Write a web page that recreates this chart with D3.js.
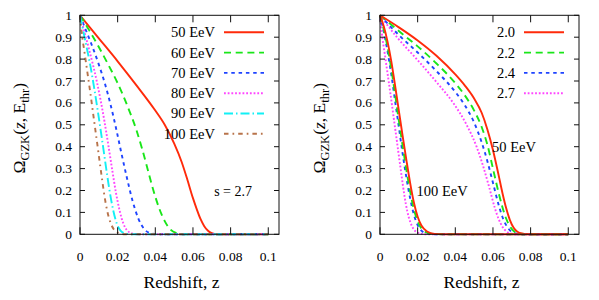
<!DOCTYPE html>
<html>
<head>
<meta charset="utf-8">
<script src="https://cdn.jsdelivr.net/npm/d3@7"></script>
<style>
  body { margin: 0; background: #fff; }
  svg text { font-family: "Liberation Serif", "Times New Roman", serif; fill: #000; }
</style>
</head>
<body>
<div class="chart"></div>
<script>
// axis ticks
const xTicks = [0, 0.02, 0.04, 0.06, 0.08, 0.1];
const xTickLabels = ["0", "0.02", "0.04", "0.06", "0.08", "0.1"];
const yTicks = [0, 0.1, 0.2, 0.3, 0.4, 0.5, 0.6, 0.7, 0.8, 0.9, 1];
const yTickLabels = ["0", "0.1", "0.2", "0.3", "0.4", "0.5", "0.6", "0.7", "0.8", "0.9", "1"];

// left panel: s = 2.7, different threshold energies  [z, Omega]
const leftLabels = ["50 EeV", "60 EeV", "70 EeV", "80 EeV", "90 EeV", "100 EeV"];
const e50 = [[0,1],[0.01,0.895],[0.02,0.79],[0.03,0.68],[0.04,0.565],[0.045,0.5],[0.05,0.415],[0.054,0.33],[0.057,0.25],[0.06,0.165],[0.062,0.115],[0.064,0.07],[0.066,0.037],[0.068,0.016],[0.07,0.005],[0.072,0.001],[0.075,0],[0.1,0]];
const e60 = [[0,1],[0.005,0.93],[0.01,0.855],[0.015,0.775],[0.02,0.69],[0.025,0.59],[0.03,0.475],[0.033,0.39],[0.036,0.295],[0.039,0.2],[0.042,0.12],[0.045,0.06],[0.048,0.022],[0.051,0.006],[0.055,0],[0.1,0]];
const e70 = [[0,1],[0.003,0.935],[0.006,0.87],[0.01,0.775],[0.013,0.695],[0.016,0.6],[0.019,0.49],[0.022,0.37],[0.025,0.255],[0.028,0.15],[0.031,0.072],[0.034,0.025],[0.037,0.006],[0.041,0],[0.1,0]];
const e80 = [[0,1],[0.002,0.935],[0.0045,0.855],[0.007,0.77],[0.009,0.695],[0.011,0.61],[0.013,0.515],[0.015,0.41],[0.017,0.3],[0.019,0.195],[0.021,0.11],[0.023,0.05],[0.025,0.018],[0.028,0.003],[0.031,0],[0.1,0]];
const e90 = [[0,1],[0.0018,0.925],[0.0035,0.855],[0.0055,0.77],[0.0075,0.67],[0.0095,0.56],[0.0115,0.445],[0.0135,0.325],[0.0155,0.21],[0.0175,0.115],[0.0195,0.05],[0.0215,0.017],[0.024,0.004],[0.027,0],[0.1,0]];
const e100 = [[0,1],[0.001,0.915],[0.0025,0.825],[0.004,0.735],[0.0055,0.645],[0.007,0.55],[0.0085,0.455],[0.01,0.36],[0.0115,0.265],[0.013,0.175],[0.0145,0.105],[0.016,0.058],[0.018,0.022],[0.0205,0.006],[0.024,0],[0.1,0]];

// right panel: spectral index s, at 50 EeV and 100 EeV
const rightLabels = ["2.0", "2.2", "2.4", "2.7"];
const s20e50 = [[0,1],[0.01,0.945],[0.02,0.885],[0.03,0.815],[0.04,0.73],[0.045,0.68],[0.05,0.62],[0.054,0.555],[0.057,0.48],[0.06,0.385],[0.063,0.27],[0.065,0.19],[0.067,0.12],[0.069,0.065],[0.071,0.03],[0.073,0.012],[0.076,0.003],[0.079,0],[0.1,0]];
const s22e50 = [[0,1],[0.01,0.928],[0.02,0.858],[0.03,0.78],[0.04,0.69],[0.045,0.635],[0.05,0.565],[0.054,0.49],[0.057,0.41],[0.06,0.3],[0.063,0.19],[0.065,0.125],[0.067,0.072],[0.069,0.036],[0.071,0.015],[0.074,0.003],[0.077,0],[0.1,0]];
const s24e50 = [[0,1],[0.01,0.91],[0.02,0.83],[0.03,0.745],[0.04,0.65],[0.045,0.59],[0.05,0.51],[0.054,0.42],[0.057,0.335],[0.06,0.235],[0.063,0.135],[0.065,0.08],[0.067,0.042],[0.069,0.018],[0.072,0.004],[0.076,0],[0.1,0]];
const s27e50 = [[0,1],[0.009,0.9],[0.0195,0.8],[0.03,0.695],[0.0393,0.595],[0.046,0.5],[0.0513,0.4],[0.055,0.305],[0.058,0.215],[0.061,0.12],[0.063,0.07],[0.065,0.035],[0.067,0.014],[0.07,0.003],[0.073,0],[0.1,0]];
const s20e100 = [[0,1],[0.002,0.95],[0.004,0.88],[0.006,0.79],[0.008,0.68],[0.01,0.565],[0.012,0.45],[0.014,0.34],[0.016,0.235],[0.018,0.145],[0.02,0.08],[0.022,0.04],[0.025,0.013],[0.029,0.002],[0.034,0],[0.1,0]];
const s22e100 = [[0,1],[0.002,0.935],[0.004,0.855],[0.006,0.755],[0.008,0.64],[0.01,0.52],[0.012,0.405],[0.014,0.295],[0.016,0.195],[0.018,0.115],[0.02,0.06],[0.022,0.027],[0.025,0.008],[0.029,0.001],[0.033,0],[0.1,0]];
const s24e100 = [[0,1],[0.002,0.925],[0.004,0.835],[0.006,0.73],[0.008,0.61],[0.01,0.49],[0.012,0.37],[0.014,0.26],[0.016,0.165],[0.018,0.09],[0.02,0.042],[0.022,0.017],[0.025,0.004],[0.03,0],[0.1,0]];
const s27e100 = [[0,1],[0.001,0.915],[0.0025,0.825],[0.004,0.735],[0.0055,0.645],[0.007,0.55],[0.0085,0.455],[0.01,0.36],[0.0115,0.265],[0.013,0.175],[0.0145,0.105],[0.016,0.058],[0.018,0.022],[0.0205,0.006],[0.024,0],[0.1,0]];

// gnuplot-like line types
const styles = [
  { color: "#ff2a0a", dash: null },
  { color: "#19e619", dash: "7,4.7" },
  { color: "#1f44ff", dash: "3.5,3.8" },
  { color: "#ff45ff", dash: "1.8,1.9" },
  { color: "#12f0f5", dash: "9,3,1.5,3" },
  { color: "#b8734a", dash: "4.5,4,1.7,4" }
];

const svg = d3.select(".chart").append("svg")
  .attr("width", 599)
  .attr("height", 300);

function drawPanel(left, series, legend) {
  const chart = { top: 15.3, width: 199, height: 219 };
  const g = svg.append("g").attr("transform", `translate(${left}, ${chart.top})`);

  const x = d3.scaleLinear().domain([0, 0.1057]).range([0, chart.width]);
  const y = d3.scaleLinear().domain([0, 1]).range([chart.height, 0]);

  const line = d3.line()
    .x(d => x(d[0]))
    .y(d => y(d[1]))
    .curve(d3.curveMonotoneX);

  series.forEach(s => {
    g.append("path")
      .datum(s.data)
      .attr("fill", "none")
      .attr("stroke", styles[s.style].color)
      .attr("stroke-width", 1.9)
      .attr("stroke-dasharray", styles[s.style].dash)
      .attr("d", line);
  });

  // frame with inward ticks on all sides
  g.append("rect")
    .attr("width", chart.width).attr("height", chart.height)
    .attr("fill", "none").attr("stroke", "#111").attr("stroke-width", 1);

  const ticks = g.append("g").attr("stroke", "#111").attr("stroke-width", 1);
  xTicks.forEach(t => {
    ticks.append("line").attr("x1", x(t)).attr("x2", x(t)).attr("y1", chart.height).attr("y2", chart.height - 7);
    ticks.append("line").attr("x1", x(t)).attr("x2", x(t)).attr("y1", 0).attr("y2", 7);
  });
  yTicks.forEach(t => {
    ticks.append("line").attr("y1", y(t)).attr("y2", y(t)).attr("x1", 0).attr("x2", 5);
    ticks.append("line").attr("y1", y(t)).attr("y2", y(t)).attr("x1", chart.width).attr("x2", chart.width - 5);
  });

  g.selectAll(".xl").data(xTicks).enter().append("text")
    .attr("x", d => x(d)).attr("y", chart.height + 26.5)
    .attr("text-anchor", "middle").attr("font-size", 13.5)
    .text((d, i) => xTickLabels[i]);

  g.selectAll(".yl").data(yTicks).enter().append("text")
    .attr("x", -8).attr("y", d => y(d) + 4.6)
    .attr("text-anchor", "end").attr("font-size", 13.5)
    .text((d, i) => yTickLabels[i]);

  // axis titles
  g.append("text")
    .attr("x", chart.width / 2 + 2).attr("y", 273)
    .attr("text-anchor", "middle").attr("font-size", 17.5)
    .text("Redshift, z");

  const yl = g.append("text")
    .attr("transform", `translate(-55, 113) rotate(-90)`)
    .attr("text-anchor", "middle").attr("font-size", 17.5);
  yl.append("tspan").text("\u03A9");
  yl.append("tspan").attr("dy", 4).attr("font-size", 12.5).text("GZK");
  yl.append("tspan").attr("dy", -4).text("(");
  yl.append("tspan").attr("font-style", "italic").text("z");
  yl.append("tspan").text(", E");
  yl.append("tspan").attr("dy", 4).attr("font-size", 12.5).text("thr");
  yl.append("tspan").attr("dy", -4).text(")");

  // legend
  legend.forEach((lab, i) => {
    const ly = 17 + i * 20.3;
    g.append("text")
      .attr("x", 135).attr("y", ly + 5)
      .attr("text-anchor", "end").attr("font-size", 14.5)
      .text(lab);
    g.append("line")
      .attr("x1", 144).attr("x2", 184).attr("y1", ly).attr("y2", ly)
      .attr("stroke", styles[i].color).attr("stroke-width", 1.9)
      .attr("stroke-dasharray", styles[i].dash);
  });
  return g;
}

const gl = drawPanel(80, [
  { data: e50, style: 0 }, { data: e60, style: 1 }, { data: e70, style: 2 },
  { data: e80, style: 3 }, { data: e90, style: 4 }, { data: e100, style: 5 }
], leftLabels);
gl.append("text").attr("x", 172).attr("y", 181).attr("text-anchor", "end")
  .attr("font-size", 14).text("s = 2.7");

const gr = drawPanel(380, [
  { data: s27e50, style: 3 }, { data: s24e50, style: 2 }, { data: s22e50, style: 1 }, { data: s20e50, style: 0 },
  { data: s27e100, style: 3 }, { data: s24e100, style: 2 }, { data: s22e100, style: 1 }, { data: s20e100, style: 0 }
], rightLabels);
gr.append("text").attr("x", 112).attr("y", 136.5).attr("font-size", 14.5).text("50 EeV");
gr.append("text").attr("x", 36.5).attr("y", 181).attr("font-size", 14.5).text("100 EeV");
</script>
</body>
</html>
